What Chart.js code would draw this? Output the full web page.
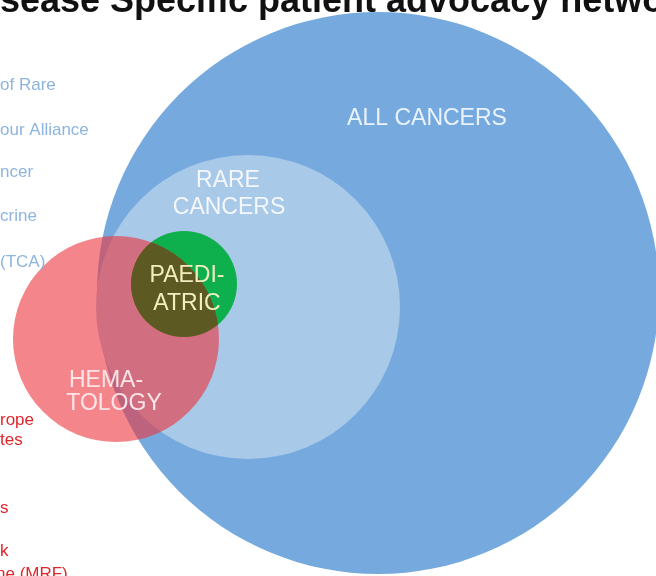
<!DOCTYPE html>
<html>
<head>
<meta charset="utf-8">
<script src="https://cdn.jsdelivr.net/npm/chart.js@4.4.1/dist/chart.umd.min.js"></script>
<style>
  html, body { margin: 0; padding: 0; background: #ffffff; }
  #wrap { width: 656px; height: 576px; position: relative; overflow: hidden; }
</style>
</head>
<body>
<div id="wrap"><canvas id="vennChart"></canvas></div>
<script>
// Data venn (pusat & jari-jari lingkaran dalam satuan sumbu)
const circleNames = ['ALL CANCERS', 'RARE CANCERS', 'PAEDIATRIC', 'HEMATOLOGY'];
const circleX = [378, 248, 184, 116];
const circleY = [293, 307, 284, 339];
const circleR = [281, 152, 53, 103];
const circleLabels = [['ALL CANCERS'], ['RARE', 'CANCERS'], ['PAEDI-', 'ATRIC'], ['HEMA-', 'TOLOGY']];

// Teks judul dan catatan di kiri (terpotong di gambar asli)
const titleText = 'Disease Specific patient advocacy networks';
const blueNotes = ['of Rare', 'our Alliance', 'ncer', 'crine', '(TCA)'];
const redNotes = ['rope', 'tes', 's', 'k', 'ne (MRF)'];

// Gaya & posisi (bukan data)
const fills = ['#76aadf', '#a9c9e9', '#0db04c', 'rgba(237, 52, 60, 0.6)'];
const overlapFill = '#5c5a22';          // irisan merah + hijau
const labelColors = ['#eaf3fb', '#f4f7fb', '#f2eebf', '#fbe5e8'];
const labelOffsets = [                   // offset teks dari pusat lingkaran
  [[49, -176]],
  [[-20, -128], [-19, -101]],
  [[3, -10], [3, 18]],
  [[-10, 40], [-2, 63]]
];
const blueNoteY = [85, 130, 172, 216, 262];
const redNoteY = [420, 440, 508, 551, 574];

const xMin = 0, xMax = 656, yMin = 0, yMax = 576;

// jari-jari piksel lewat skala x (cadangan bila skala belum diukur)
function pixelRadius(chart, i) {
  const sx = chart.scales.x;
  let r = NaN;
  if (sx && sx.width) {
    r = Math.abs(sx.getPixelForValue(circleX[i] + circleR[i]) - sx.getPixelForValue(circleX[i]));
  }
  if (!isFinite(r)) r = circleR[i] * chart.width / (xMax - xMin);
  return r;
}

const vennPlugin = {
  id: 'vennPlugin',
  afterDatasetsDraw(chart) {
    const ctx = chart.ctx;
    const sx = chart.scales.x, sy = chart.scales.y;
    const px = i => sx.getPixelForValue(circleX[i]);
    const py = i => sy.getPixelForValue(circleY[i]);

    // irisan hematology & paediatric
    ctx.save();
    ctx.beginPath();
    ctx.arc(px(3), py(3), pixelRadius(chart, 3), 0, Math.PI * 2);
    ctx.clip();
    ctx.beginPath();
    ctx.arc(px(2), py(2), pixelRadius(chart, 2), 0, Math.PI * 2);
    ctx.fillStyle = overlapFill;
    ctx.fill();
    ctx.restore();

    // label lingkaran
    ctx.save();
    ctx.font = '23px "Liberation Sans", Arial, sans-serif';
    ctx.textBaseline = 'middle';
    ctx.textAlign = 'center';
    circleLabels.forEach((lines, i) => {
      ctx.fillStyle = labelColors[i];
      lines.forEach((t, j) => {
        const [dx, dy] = labelOffsets[i][j];
        ctx.fillText(t, px(i) + dx, py(i) + dy + 2);
      });
    });
    ctx.restore();

    // judul (terpotong di atas)
    ctx.save();
    ctx.font = 'bold 36px "Liberation Sans", Arial, sans-serif';
    ctx.fillStyle = '#111111';
    ctx.textBaseline = 'alphabetic';
    const lead = ctx.measureText('Disease ').width;
    ctx.fillText(titleText, 110 - lead, 12);
    ctx.restore();

    // catatan kiri
    ctx.save();
    ctx.font = '17px "Liberation Sans", Arial, sans-serif';
    ctx.textBaseline = 'middle';
    ctx.fillStyle = '#8db4de';
    blueNotes.forEach((t, i) => ctx.fillText(t, 0, blueNoteY[i]));
    ctx.fillStyle = '#e0262b';
    redNotes.forEach((t, i) => ctx.fillText(t, i === 4 ? -4 : 0, redNoteY[i]));
    ctx.restore();
  }
};

document.addEventListener('DOMContentLoaded', function() {
  const canvas = document.getElementById('vennChart');
  new Chart(canvas, {
    type: 'bubble',
    data: {
      labels: circleNames,
      datasets: [{
        label: 'Venn',
        data: circleX.map((x, i) => ({ x: x, y: circleY[i] })),
        backgroundColor: fills,
        borderWidth: 0,
        radius: c => pixelRadius(c.chart, c.dataIndex),
        clip: false
      }]
    },
    options: {
      responsive: true,
      maintainAspectRatio: false,
      animation: false,
      events: [],
      layout: { padding: 0, autoPadding: false },
      scales: {
        x: { type: 'linear', min: xMin, max: xMax, display: false },
        y: { type: 'linear', min: yMin, max: yMax, reverse: true, display: false }
      },
      plugins: {
        legend: { display: false },
        tooltip: { enabled: false },
        title: { display: false }
      }
    },
    plugins: [vennPlugin]
  });
});
</script>
</body>
</html>
